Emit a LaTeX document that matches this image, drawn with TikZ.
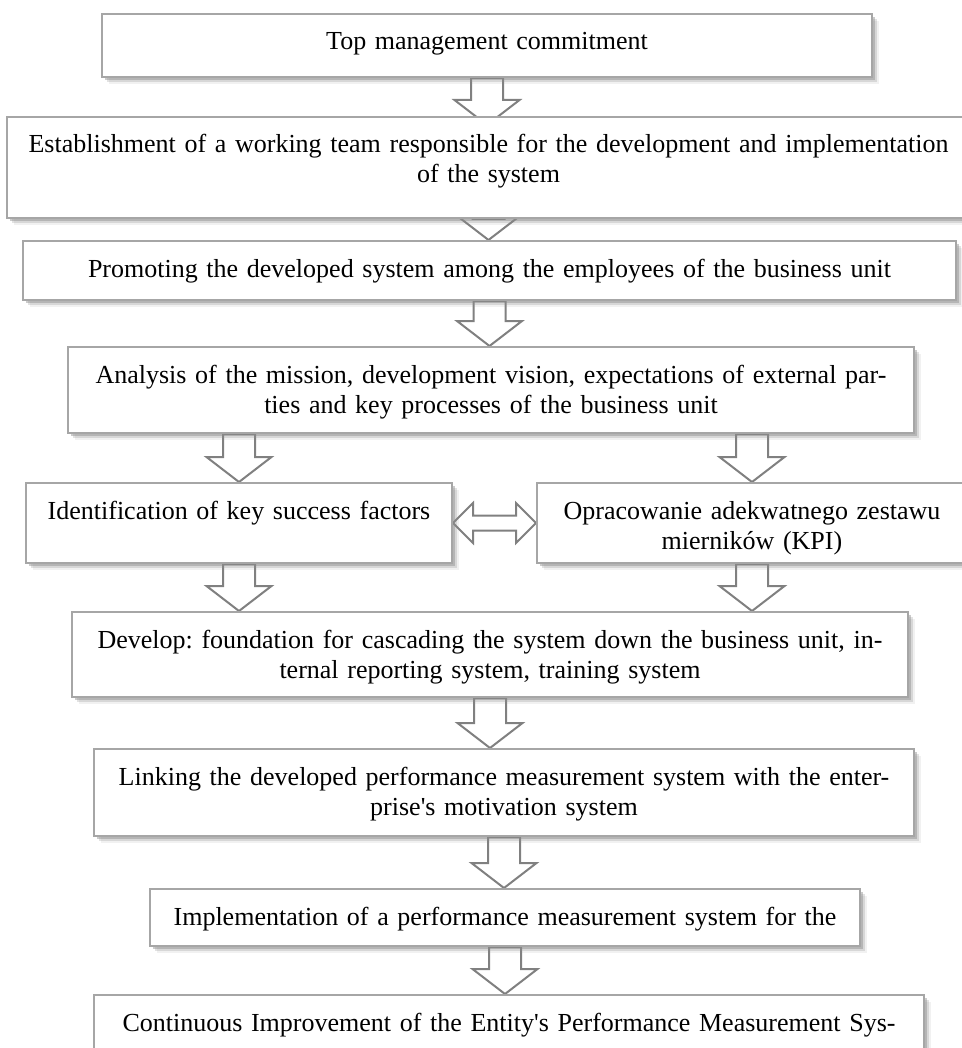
\documentclass[tikz,border=0pt]{standalone}
\usepackage{fontspec}
\setmainfont{Liberation Serif}
\usepackage{tikz}
\usetikzlibrary{calc, shadows, positioning}
\pgfdeclarelayer{background}
\pgfdeclarelayer{arrowlayer}
\pgfsetlayers{background,arrowlayer,main}
\frenchspacing
\tikzset{
    softshadow/.style={
        drop shadow={shadow xshift=1.5pt, shadow yshift=-1.5pt, opacity=.45, fill=black!45},
        drop shadow={shadow xshift=2.5pt, shadow yshift=-2.5pt, opacity=.25, fill=black!45},
        drop shadow={shadow xshift=3.5pt, shadow yshift=-3.5pt, opacity=.12, fill=black!45}},
    stepbox/.style n args={3}{rectangle, draw=black!35, line width=1pt,
                 fill=white, softshadow, anchor=north, inner sep=0pt,
                 minimum width=#1, text width=#2, align=center,
                 text height=18pt, text depth=#3,
                 font=\fontsize{13}{15}\selectfont},
    downarr/.style={draw=black!50, line width=1pt, fill=white,
        to path={let \p1=(\tikztostart), \p2=(\tikztotarget) in
            (\x1-8pt,\y1) -- (\x1-8pt,\y2+12.5pt) -- (\x1-16.25pt,\y2+12.5pt)
            -- (\x1,\y2) -- (\x1+16.25pt,\y2+12.5pt) -- (\x1+8pt,\y2+12.5pt)
            -- (\x1+8pt,\y1) -- cycle}},
    bothArr/.style={draw=black!50, line width=1pt, fill=white,
        to path={let \p1=(\tikztostart), \p2=(\tikztotarget) in
            (\x1,\y1) -- (\x1+10pt,\y1+10pt) -- (\x1+10pt,\y1+3.75pt)
            -- (\x2-10pt,\y1+3.75pt) -- (\x2-10pt,\y1+10pt) -- (\x2,\y1)
            -- (\x2-10pt,\y1-10pt) -- (\x2-10pt,\y1-3.75pt)
            -- (\x1+10pt,\y1-3.75pt) -- (\x1+10pt,\y1-10pt) -- cycle}}
}

\begin{document}
\begin{tikzpicture}[x=0.5pt, y=-0.5pt]
\useasboundingbox (0,0) rectangle (962,1048);
\begin{pgfonlayer}{background}
\fill[white] (0,0) rectangle (962,1048);
\end{pgfonlayer}

% ── Upper chain ───────────────────────────────────────────────────────
\node[stepbox={385pt}{375pt}{13.5pt}] (commit) at (487,13) {Top management commitment};
\node[stepbox={481.5pt}{475pt}{32.5pt}] (team) at (488.5,116)
    {Establishment of a working team responsible for the development and implementation\\of the system};
\node[stepbox={466.5pt}{455pt}{11.5pt}] (promo) at (489.5,240)
    {Promoting the developed system among the employees of the business unit};
\node[stepbox={423pt}{413pt}{25pt}] (mission) at (491,346)
    {Analysis of the mission, development vision, expectations of external par-\\ties and key processes of the business unit};

% ── Two branches ──────────────────────────────────────────────────────
\node[stepbox={213pt}{203pt}{22pt}] (ksf) at (239,482) {Identification of key success factors};
\node[stepbox={215pt}{205pt}{22pt}] (kpi) at (752,482) {Opracowanie adekwatnego zestawu\\mierników (KPI)};

% ── Lower chain ───────────────────────────────────────────────────────
\node[stepbox={418pt}{408pt}{24.5pt}] (cascade) at (490,611)
    {Develop: foundation for cascading the system down the business unit, in-\\ternal reporting system, training system};
\node[stepbox={410pt}{400pt}{25.5pt}] (motiv) at (504,748)
    {Linking the developed performance measurement system with the enter-\\prise\textquotesingle s motivation system};
\node[stepbox={355pt}{345pt}{10.5pt}] (impl) at (505,888)
    {Implementation of a performance measurement system for the};
\node[stepbox={415pt}{405pt}{22pt}] (improve) at (509,994)
    {Continuous Improvement of the Entity\textquotesingle s Performance Measurement Sys-};

% ── Block arrows (behind the boxes) ───────────────────────────────────
\begin{pgfonlayer}{arrowlayer}
\draw[downarr] (commit.south) to ($(team.north)+(0,9)$);
\draw[downarr] (team.south) to (promo.north);
\draw[downarr] (promo.south) to (mission.north);
\draw[downarr] (ksf.north |- mission.south) to (ksf.north);
\draw[downarr] (kpi.north |- mission.south) to (kpi.north);
\draw[bothArr] (ksf.east) to (kpi.west);
\draw[downarr] (ksf.south) to (ksf.south |- cascade.north);
\draw[downarr] (kpi.south) to (kpi.south |- cascade.north);
\draw[downarr] (cascade.south) to (cascade.south |- motiv.north);
\draw[downarr] (motiv.south) to (motiv.south |- impl.north);
\draw[downarr] (impl.south) to (impl.south |- improve.north);
\end{pgfonlayer}
\end{tikzpicture}
\end{document}
